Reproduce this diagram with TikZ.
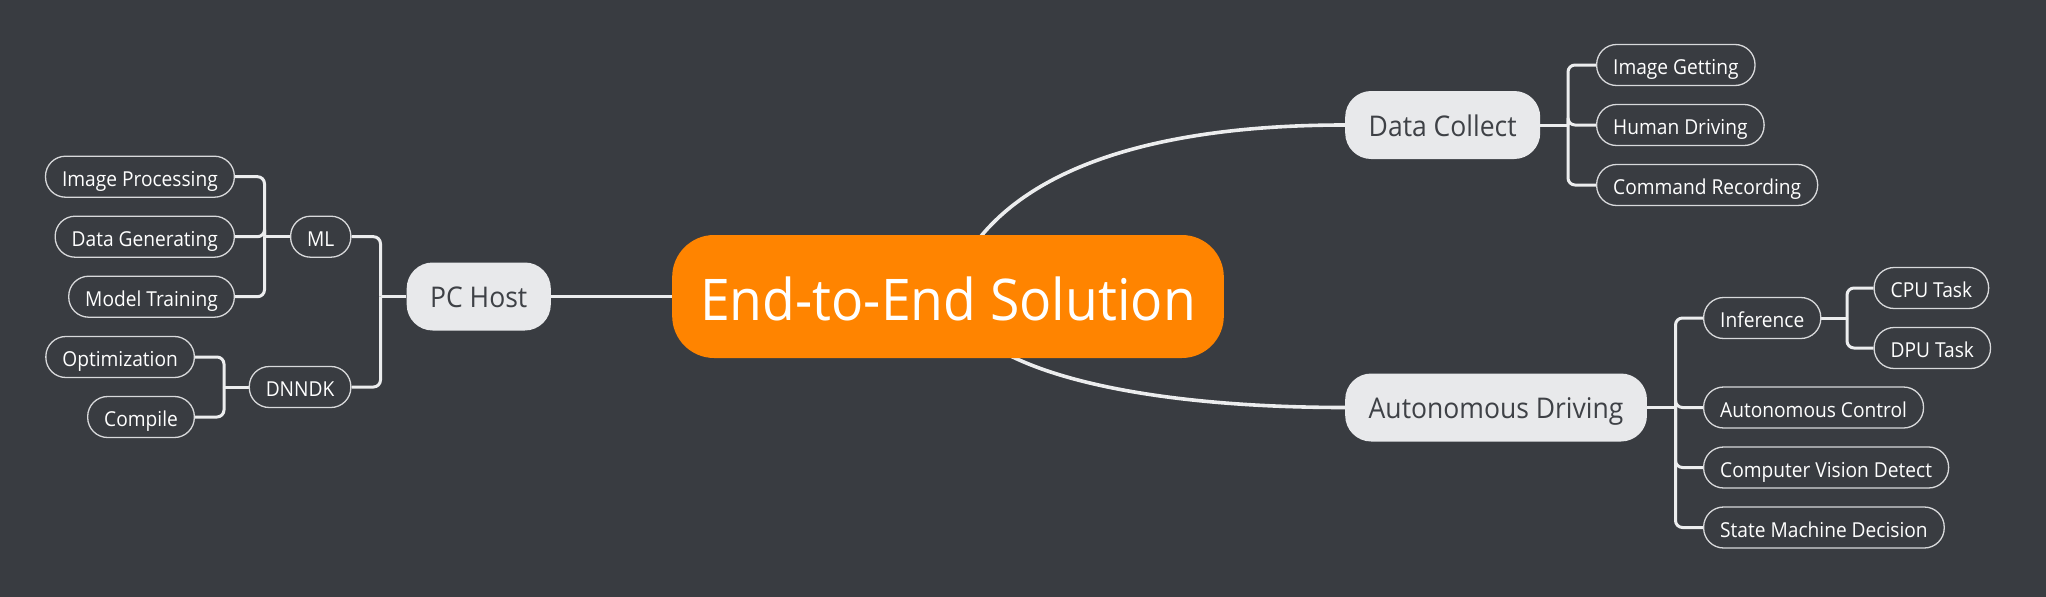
\documentclass[tikz,border=0pt]{standalone}
\usepackage{fontspec}
\setmainfont{Open Sans}[FakeStretch=0.93]
\usetikzlibrary{calc}
\definecolor{bgc}{HTML}{393C41}
\definecolor{orng}{HTML}{FF8400}
\definecolor{lgt}{HTML}{E8E9EB}
\definecolor{lnc}{HTML}{ECEDEE}
\definecolor{bdr}{HTML}{D8D9DB}
\definecolor{dtxt}{HTML}{3E4146}
\pgfdeclarelayer{back}
\pgfdeclarelayer{edges}
\pgfsetlayers{back,edges,main}
\begin{document}
\begin{tikzpicture}[x=1pt,y=-1pt,
 rootbox/.style={fill=orng, text=white, rounded corners=42pt, minimum height=123pt, inner xsep=28pt, inner ysep=0pt, font=\fontsize{57.5}{62}\selectfont, text height=48pt, text depth=0pt},
 topicbox/.style={fill=lgt, text=dtxt, rounded corners=26pt, minimum height=68pt, inner xsep=23.5pt, inner ysep=0pt, font=\fontsize{28.5}{32}\selectfont, text height=22.8pt, text depth=0pt},
 leafbox/.style={draw=bdr, line width=1.3pt, fill=bgc, text=white, rounded corners=20pt, minimum height=41pt, inner xsep=16.5pt, inner ysep=0pt, font=\fontsize{20.6}{24}\selectfont, text height=19.8pt, text depth=0pt},
 mainedge/.style={draw=lnc, line width=3.6pt},
 subedge/.style={draw=lnc, line width=3pt, rounded corners=7pt},
]
\begin{pgfonlayer}{back}
\fill[bgc] (0,0) rectangle (2046,597);
\end{pgfonlayer}
\useasboundingbox (0,0) rectangle (2046,597);

% root and main topics
\node[rootbox] (root) at (948,296.5) {End-to-End Solution};
\node[topicbox, anchor=east] (pc) at (551,296.5) {PC Host};
\node[topicbox, anchor=west] (dc) at (1345,125) {Data Collect};
\node[topicbox, anchor=west] (ad) at (1345,407.5) {Autonomous Driving};

% left side
\node[leafbox, anchor=east] (ml) at (351.5,236.7) {ML};
\node[leafbox, anchor=east] (dn) at (351.5,387) {DNNDK};
\node[leafbox, anchor=east] (ip) at (235,176.7) {Image Processing};
\node[leafbox, anchor=east] (dg) at (235,236.7) {Data Generating};
\node[leafbox, anchor=east] (mt) at (235,296.7) {Model Training};
\node[leafbox, anchor=east] (op) at (195,357) {Optimization};
\node[leafbox, anchor=east] (co) at (195,417) {Compile};

% right side
\node[leafbox, anchor=west] (ig) at (1596,65) {Image Getting};
\node[leafbox, anchor=west] (hd) at (1596,125) {Human Driving};
\node[leafbox, anchor=west] (cr) at (1596,185) {Command Recording};
\node[leafbox, anchor=west] (inf) at (1703,318) {Inference};
\node[leafbox, anchor=west] (cpu) at (1873.5,288) {CPU Task};
\node[leafbox, anchor=west] (dpu) at (1873.5,348) {DPU Task};
\node[leafbox, anchor=west] (ac) at (1703,407.5) {Autonomous Control};
\node[leafbox, anchor=west] (cv) at (1703,467.5) {Computer Vision Detect};
\node[leafbox, anchor=west] (sm) at (1703,527.5) {State Machine Decision};

% junctions
\coordinate (pcj) at (380.5,296.5);
\coordinate (mlj) at (264.5,236.7);
\coordinate (dnj) at (224,387);
\coordinate (dcj) at (1568,125);
\coordinate (adj) at (1675.5,407.5);
\coordinate (infj) at (1847,318);

\begin{pgfonlayer}{edges}
\draw[mainedge] (root.center) .. controls +(37,-116.5) and +(-215,0) .. (dc.west);
\draw[mainedge] (root.center) .. controls +(27,78.5) and +(-195,0) .. (ad.west);
\draw[mainedge] (root.west) -- (pc.east);

\draw[subedge] (pc.west) -- (pcj);
\draw[subedge] (pcj) |- (ml.east);
\draw[subedge] (pcj) |- (dn.east);

\draw[subedge] (ml.west) -- (mlj);
\draw[subedge] (mlj) |- (ip.east);
\draw[subedge] (mlj) |- (dg.east);
\draw[subedge] (mlj) |- (mt.east);

\draw[subedge] (dn.west) -- (dnj);
\draw[subedge] (dnj) |- (op.east);
\draw[subedge] (dnj) |- (co.east);

\draw[subedge] (dc.east) -- (dcj);
\draw[subedge] (dcj) |- (ig.west);
\draw[subedge] (dcj) |- (hd.west);
\draw[subedge] (dcj) |- (cr.west);

\draw[subedge] (ad.east) -- (adj);
\draw[subedge] (adj) |- (inf.west);
\draw[subedge] (adj) |- (ac.west);
\draw[subedge] (adj) |- (cv.west);
\draw[subedge] (adj) |- (sm.west);

\draw[subedge] (inf.east) -- (infj);
\draw[subedge] (infj) |- (cpu.west);
\draw[subedge] (infj) |- (dpu.west);
\end{pgfonlayer}
\end{tikzpicture}
\end{document}
